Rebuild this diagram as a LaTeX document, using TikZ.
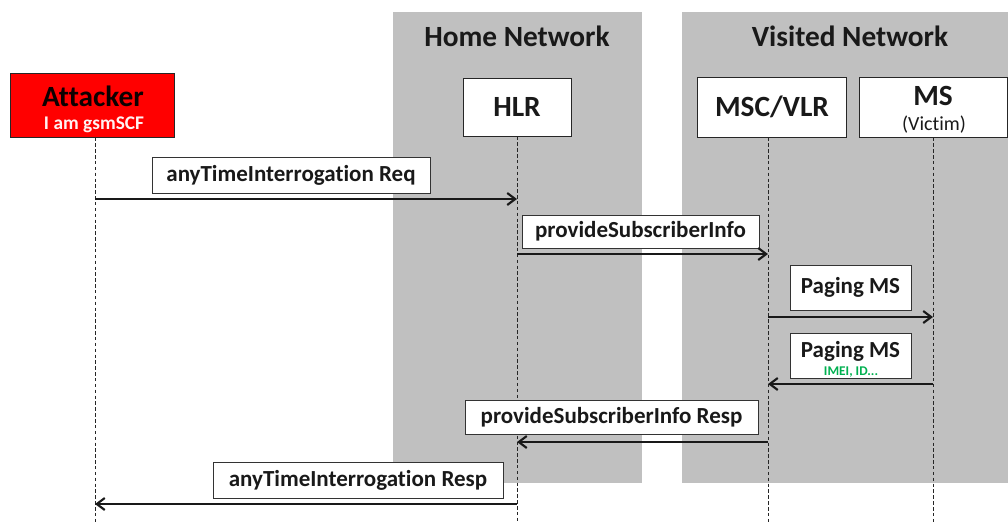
\documentclass[tikz,border=0pt]{standalone}
\usepackage{fontspec}
\setmainfont[Ligatures=NoCommon]{Carlito}
\usetikzlibrary{arrows.meta}
\definecolor{netgray}{HTML}{C0C0C0}
\definecolor{attred}{HTML}{FF0000}
\definecolor{idgreen}{HTML}{00B050}
\tikzset{
  net/.style={fill=netgray, draw=none},
  nettitle/.style={font=\bfseries\fontsize{22}{24}\selectfont, inner sep=0pt, text=black!90},
  ent/.style={draw=black!85, line width=0.7pt, fill=white, inner sep=0pt},
  enttext/.style={font=\bfseries\fontsize{22}{24}\selectfont, inner sep=0pt, text=black!90},
  msgbox/.style={draw=black!80, line width=0.7pt, fill=white, inner sep=0pt, text=black!90, font=\bfseries\fontsize{17.25}{19}\selectfont},
  life/.style={draw=black!85, line width=0.7pt, dash pattern=on 2.6pt off 1.8pt},
  msg/.style={line width=2.2pt, draw=black!90, -{Straight Barb[length=6pt, width=9pt, line width=1.6pt]}},
}
\begin{document}
\begin{tikzpicture}[x=0.75pt, y=-0.75pt]
\useasboundingbox (0,0) rectangle (1008,522);
\fill[white] (0,0) rectangle (1008,522);
% network areas
\path[net] (393,12) rectangle (642,483);
\path[net] (682,12) rectangle (1008,483);
\node[nettitle] (homeT) at (517,36) {Home Network};
\node[nettitle] (visT) at (850,36) {Visited Network};
% entities
\node[ent, fill=attred, minimum width=123pt, minimum height=48pt] (att) at (92,105) {};
\node[enttext, text=black!95!red] (attT) at (93,96) {Attacker};
\node[inner sep=0pt, text=white!95!red, font=\bfseries\fontsize{14.5}{16}\selectfont] (attS) at (94,125) {I am gsmSCF};
\node[ent, minimum width=81pt, minimum height=43.5pt, enttext] (hlr) at (517,107) {HLR};
\node[ent, minimum width=112pt, minimum height=45pt, enttext] (msc) at (772,107) {MSC/VLR};
\node[ent, minimum width=111pt, minimum height=45pt] (ms) at (933,107) {};
\node[enttext] (msT) at (933,96) {MS};
\node[inner sep=0pt, text=black!90, font=\fontsize{15}{17}\selectfont] (msS) at (934,125) {(Victim)};
% lifelines
\coordinate (attEnd) at (95,522);
\coordinate (hlrEnd) at (517,522);
\coordinate (mscEnd) at (768,522);
\coordinate (msEnd) at (933,522);
\draw[life] (att.south -| attEnd) -- (attEnd);
\draw[life] (hlr.south -| hlrEnd) -- (hlrEnd);
\draw[life] (msc.south -| mscEnd) -- (mscEnd);
\draw[life] (ms.south -| msEnd) -- (msEnd);
% message 1
\node[msgbox, minimum width=208.5pt, minimum height=27pt] (m1) at (291,175) {anyTimeInterrogation Req};
\coordinate (a1) at (95,199); \coordinate (h1) at (517,199);
\draw[msg] (a1) -- (h1);
% message 2
\node[msgbox, minimum width=177.75pt, minimum height=24.75pt] (m2) at (640.5,231.5) {provideSubscriberInfo};
\coordinate (h2) at (517,254); \coordinate (s2) at (768,254);
\draw[msg] (h2) -- (s2);
% message 3
\node[msgbox, minimum width=90.75pt, minimum height=33.75pt] (m3) at (850.5,287.5) {Paging MS};
\coordinate (s3) at (768,317); \coordinate (p3) at (933,317);
\draw[msg] (s3) -- (p3);
% message 4
\node[msgbox, minimum width=90.75pt, minimum height=33.75pt] (m4) at (850.5,355.5) {};
\node[inner sep=0pt, text=black!90, font=\bfseries\fontsize{17.25}{19}\selectfont] (m4T) at (850.5,351) {Paging MS};
\node[inner sep=0pt, text=idgreen, font=\bfseries\fontsize{10}{11}\selectfont] (m4S) at (851,372) {IMEI, ID...};
\coordinate (p4) at (933,384); \coordinate (s4) at (768,384);
\draw[msg] (p4) -- (s4);
% message 5
\node[msgbox, minimum width=219.75pt, minimum height=25.5pt] (m5) at (611.5,417.5) {provideSubscriberInfo Resp};
\coordinate (s5) at (768,442); \coordinate (h5) at (517,442);
\draw[msg] (s5) -- (h5);
% message 6
\node[msgbox, minimum width=217.5pt, minimum height=27pt] (m6) at (358,480) {anyTimeInterrogation Resp};
\coordinate (h6) at (517,504); \coordinate (a6) at (95,504);
\draw[msg] (h6) -- (a6);
\end{tikzpicture}
\end{document}
